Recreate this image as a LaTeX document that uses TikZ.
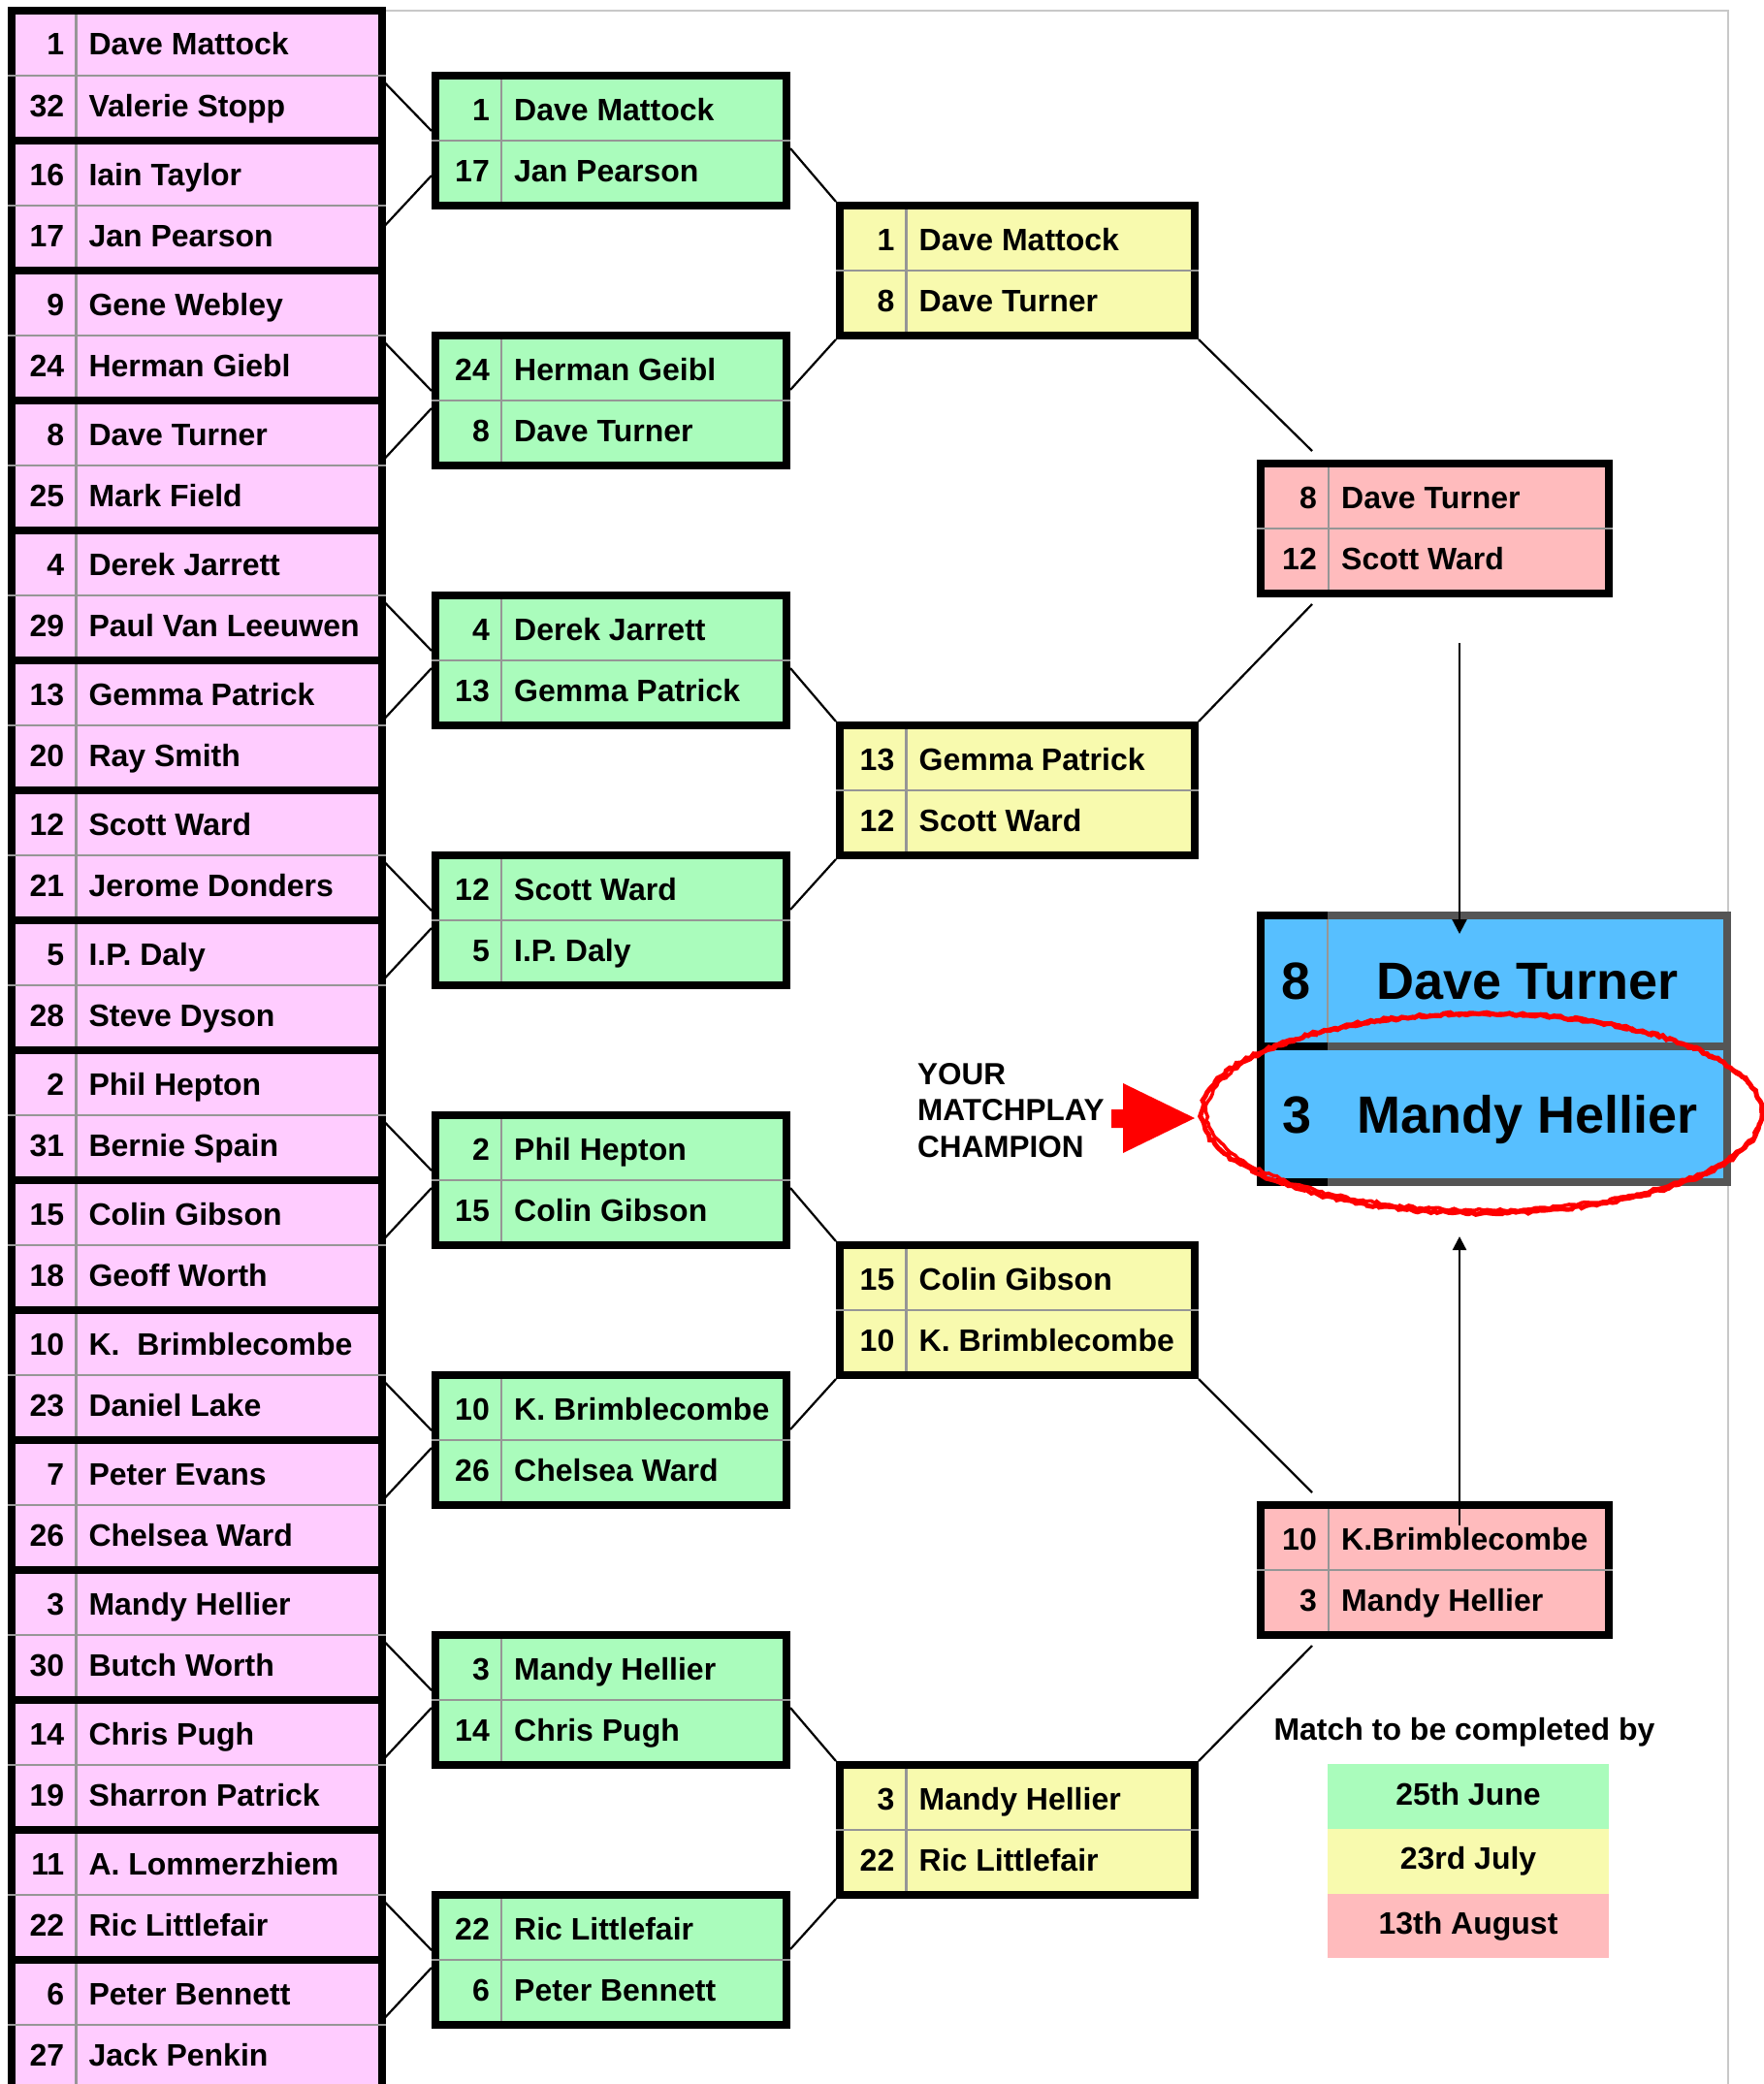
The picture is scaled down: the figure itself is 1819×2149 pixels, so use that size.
\documentclass[tikz,border=0pt]{standalone}
\usepackage{fontspec}
\setmainfont{Liberation Sans}
\usetikzlibrary{positioning,arrows.meta,decorations.pathmorphing}

\newcommand{\rowfont}{\fontsize{32}{38}\selectfont\bfseries}
\newcommand{\bigfont}{\fontsize{54}{60}\selectfont\bfseries}
\newcommand{\callfont}{\fontsize{31.5}{37.5}\selectfont\bfseries}

\tikzset{
  pairbox/.style={draw=black, line width=8pt, minimum height=134pt, inner sep=0pt},
  gridline/.style={draw=gridgray, line width=2.4pt},
  seed/.style={anchor=base east, inner sep=0pt, font=\rowfont},
  player/.style={anchor=base west, inner sep=0pt, font=\rowfont},
  link/.style={line width=2.2pt},
  legendbox/.style={minimum width=290pt, minimum height=66.7pt, inner sep=0pt, outer sep=0pt,
    font=\rowfont, text height=17pt, text depth=0pt},
}

% one match: name, centre, width, fill, number column, seed/name top, seed/name bottom
\newcommand{\matchbox}[9]{%
  \node[pairbox, fill=#4, minimum width=#3] (#1) at #2 {};
  \draw[gridline] (#1.west) -- (#1.east);
  \draw[gridline, shorten <=8pt, shorten >=8pt] ([xshift=#5]#1.north west) -- ([xshift=#5]#1.south west);
  \node[seed] (#1-na) at ([xshift=#5-12pt, yshift=21pt]#1.west) {#6};
  \node[player] (#1-sa) at ([xshift=#5+13pt, yshift=21pt]#1.west) {#7};
  \node[seed] (#1-nb) at ([xshift=#5-12pt, yshift=-42pt]#1.west) {#8};
  \node[player] (#1-sb) at ([xshift=#5+13pt, yshift=-42pt]#1.west) {#9};
}

\begin{document}
\begin{tikzpicture}[x=1pt, y=-1pt]
  % Define colors
  \definecolor{pinkfill}{RGB}{255,204,255}
  \definecolor{greenfill}{RGB}{170,252,188}
  \definecolor{yellowfill}{RGB}{248,250,174}
  \definecolor{salmonfill}{RGB}{255,187,189}
  \definecolor{bluefill}{RGB}{87,191,255}
  \definecolor{gridgray}{RGB}{150,150,150}
  \definecolor{framegray}{RGB}{85,85,85}
  \definecolor{pagegray}{RGB}{200,200,200}

  \useasboundingbox (0,0) rectangle (1819,2149);

  % Page frame
  \draw[pagegray, line width=2pt] (396,11) -- (1782,11) -- (1782,2149);

  % First round
  \foreach \k/\seedA/\nameA/\seedB/\nameB in {
      0/1/Dave Mattock/32/Valerie Stopp, 1/16/Iain Taylor/17/Jan Pearson,
      2/9/Gene Webley/24/Herman Giebl, 3/8/Dave Turner/25/Mark Field,
      4/4/Derek Jarrett/29/Paul Van Leeuwen, 5/13/Gemma Patrick/20/Ray Smith,
      6/12/Scott Ward/21/Jerome Donders, 7/5/I.P. Daly/28/Steve Dyson,
      8/2/Phil Hepton/31/Bernie Spain, 9/15/Colin Gibson/18/Geoff Worth,
      10/10/K.\ \ Brimblecombe/23/Daniel Lake, 11/7/Peter Evans/26/Chelsea Ward,
      12/3/Mandy Hellier/30/Butch Worth, 13/14/Chris Pugh/19/Sharron Patrick,
      14/11/A. Lommerzhiem/22/Ric Littlefair, 15/6/Peter Bennett/27/Jack Penkin}
    {\matchbox{p\k}{(202.9,78+134*\k)}{381.2pt}{pinkfill}{70pt}{\seedA}{\nameA}{\seedB}{\nameB}}

  % Second round
  \foreach \k/\seedA/\nameA/\seedB/\nameB in {
      0/1/Dave Mattock/17/Jan Pearson, 1/24/Herman Geibl/8/Dave Turner,
      2/4/Derek Jarrett/13/Gemma Patrick, 3/12/Scott Ward/5/I.P. Daly,
      4/2/Phil Hepton/15/Colin Gibson, 5/10/K. Brimblecombe/26/Chelsea Ward,
      6/3/Mandy Hellier/14/Chris Pugh, 7/22/Ric Littlefair/6/Peter Bennett}
    {\matchbox{g\k}{(630,145+268*\k)}{362pt}{greenfill}{72pt}{\seedA}{\nameA}{\seedB}{\nameB}}

  % Third round
  \foreach \k/\seedA/\nameA/\seedB/\nameB in {
      0/1/Dave Mattock/8/Dave Turner, 1/13/Gemma Patrick/12/Scott Ward,
      2/15/Colin Gibson/10/K. Brimblecombe, 3/3/Mandy Hellier/22/Ric Littlefair}
    {\matchbox{y\k}{(1049,279+536*\k)}{366pt}{yellowfill}{72.5pt}{\seedA}{\nameA}{\seedB}{\nameB}}

  % Semi finals
  \foreach \k/\seedA/\nameA/\seedB/\nameB in {
      0/8/Dave Turner/12/Scott Ward, 1/10/K.Brimblecombe/3/Mandy Hellier}
    {\matchbox{s\k}{(1479.5,545+1074*\k)}{359pt}{salmonfill}{74pt}{\seedA}{\nameA}{\seedB}{\nameB}}

  % Final
  \node[fill=bluefill, minimum width=481pt, minimum height=135pt, inner sep=0pt, outer sep=0pt] (f1) at (1540.5,1011.5) {};
  \node[fill=bluefill, minimum width=481pt, minimum height=140pt, inner sep=0pt, outer sep=0pt] (f2) at (1540.5,1149) {};
  \draw[framegray, line width=8pt] (f1.north west) rectangle (f1.south east);
  \draw[framegray, line width=8pt] (f2.north west) rectangle (f2.south east);
  \draw[line width=8pt] ([xshift=69pt]f1.north west) -- (f1.north west) -- (f2.south west) -- ([xshift=69pt]f2.south west);
  \draw[line width=8pt] (f1.south west) -- ([xshift=69pt]f1.south west);
  \draw[gridline, shorten <=4pt, shorten >=4pt] ([xshift=69pt]f1.north west) -- ([xshift=69pt]f1.south west);
  \node[anchor=base, font=\bigfont, inner sep=0pt] (f1-n) at ([xshift=36pt, yshift=-18.5pt]f1.west) {8};
  \node[anchor=base, font=\bigfont, inner sep=0pt] (f1-s) at ([xshift=34.5pt, yshift=-18.5pt]f1.center) {Dave Turner};
  \node[anchor=base, font=\bigfont, inner sep=0pt] (f2-n) at ([xshift=37pt, yshift=-19pt]f2.west) {3};
  \node[anchor=base, font=\bigfont, inner sep=0pt] (f2-s) at ([xshift=34.5pt, yshift=-19pt]f2.center) {Mandy Hellier};

  % Links round one to round two
  \foreach \j/\dy in {0/28,1/0,2/0,3/0,4/0,5/0,6/0,7/0}{
    \pgfmathtruncatemacro{\ia}{2*\j}
    \pgfmathtruncatemacro{\ib}{2*\j+1}
    \draw[link] ([yshift=-8pt]p\ia.east) -- ([yshift=10pt]g\j.west);
    \draw[link] ([yshift=8-\dy]p\ib.east) -- ([yshift=-8-\dy]g\j.west);
  }

  % Links round two to round three
  \foreach \j in {0,...,3}{
    \pgfmathtruncatemacro{\ia}{2*\j}
    \pgfmathtruncatemacro{\ib}{2*\j+1}
    \draw[link] ([yshift=-8pt]g\ia.east) -- (y\j.north west);
    \draw[link] ([yshift=11pt]g\ib.east) -- (y\j.south west);
  }

  % Links round three to semi finals
  \foreach \j in {0,1}{
    \pgfmathtruncatemacro{\ia}{2*\j}
    \pgfmathtruncatemacro{\ib}{2*\j+1}
    \draw[link] (y\ia.south east) -- ([xshift=57pt, yshift=9pt]s\j.north west);
    \draw[link] (y\ib.north east) -- ([xshift=57pt, yshift=-7pt]s\j.south west);
  }

  % Winners into the final
  \draw[link, -{Triangle[length=15pt, width=15pt]}] ([xshift=25.5pt, yshift=-47pt]s0.south) -- ([xshift=-35.5pt, yshift=-19pt]f1.north);
  \draw[link, -{Triangle[length=14pt, width=14pt]}] ([xshift=25.5pt, yshift=-25pt]s1.north) -- ([xshift=-35.5pt, yshift=-56pt]f2.south);

  % Champion call-out
  \node[anchor=west, align=left, font=\callfont, inner sep=0pt] (champ) at (946,1145) {YOUR\\MATCHPLAY\\CHAMPION};
  \fill[red] (1146,1144) -- (1158,1144) -- (1158,1117) -- (1232,1153) -- (1158,1189) -- (1158,1163) -- (1146,1163) -- cycle;

  % Red ring round the champion
  \pgfmathsetseed{7}
  \draw[red, line width=5pt, decorate, decoration={random steps, segment length=4pt, amplitude=1.5pt}]
    (1528,1148) ellipse [x radius=289pt, y radius=103pt];
  \draw[red, line width=3.5pt, decorate, decoration={random steps, segment length=4pt, amplitude=1.5pt}]
    (1530,1147) ellipse [x radius=286pt, y radius=101pt];

  % Deadlines
  \node[legendbox, fill=greenfill] (l1) at (1514,1852.5) {25th June};
  \node[legendbox, fill=yellowfill, below=0pt of l1] (l2) {23rd July};
  \node[legendbox, fill=salmonfill, below=0pt of l2] (l3) {13th August};
  \node[anchor=base, font=\rowfont, inner sep=0pt] (due) at ([xshift=-4pt, yshift=25pt]l1.north) {Match to be completed by};
\end{tikzpicture}
\end{document}
